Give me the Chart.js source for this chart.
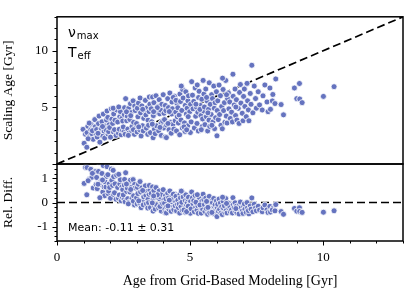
<!DOCTYPE html>
<html>
<head>
<meta charset="utf-8">
<title>Scaling age vs grid-based age</title>
<script src="https://cdn.jsdelivr.net/npm/chart.js@4.4.0/dist/chart.umd.min.js"></script>
<style>
  html, body { margin: 0; padding: 0; background: #fff; }
  #wrap { position: relative; width: 415px; height: 295px; }
  #wrap canvas { position: absolute; left: 0; top: 0; }
</style>
</head>
<body>
<div id="wrap">
  <canvas id="topChart" width="415" height="295"></canvas>
  <canvas id="bottomChart" width="415" height="295"></canvas>
</div>
<script>
// ages, one entry per star (Gyr)
const gridAge = [
  1.02,1.12,0.98,1.07,1.13,1.16,1.22,1.27,1.31,1.28,1.36,1.42,1.39,1.47,1.44,1.21,1.33,1.17,
  1.51,1.49,1.56,1.62,1.58,1.66,1.72,1.69,1.77,1.74,1.81,1.79,1.86,1.84,1.92,1.88,1.96,1.94,1.61,1.71,1.91,1.54,
  2.01,1.98,2.06,2.04,2.12,2.09,2.16,2.13,2.22,2.18,2.24,2.31,2.28,2.36,2.34,2.41,2.38,2.46,2.44,2.52,2.11,2.32,2.47,
  2.49,2.53,2.56,2.54,2.62,2.58,2.66,2.64,2.71,2.69,2.76,2.74,2.81,2.79,2.82,2.86,2.91,2.88,2.92,2.96,2.94,2.61,2.68,2.87,2.77,
  3.01,2.99,3.02,3.06,3.04,3.11,3.12,3.16,3.14,3.21,3.19,3.26,3.24,3.31,3.32,3.36,3.34,3.41,3.39,3.42,3.46,3.44,3.51,3.49,3.22,3.47,3.07,
  3.56,3.54,3.61,3.59,3.62,3.66,3.64,3.69,3.72,3.76,3.74,3.81,3.82,3.86,3.84,3.91,3.89,3.92,3.94,4.01,3.99,3.58,3.77,3.87,4.02,3.63,3.97,
  4.06,4.04,4.07,4.11,4.09,4.12,4.16,4.21,4.19,4.26,4.24,4.31,4.29,4.32,4.36,4.34,4.39,4.42,4.46,4.44,4.51,4.49,4.52,4.22,4.37,4.17,4.47,
  4.56,4.54,4.61,4.59,4.62,4.66,4.64,4.71,4.69,4.72,4.74,4.81,4.79,4.82,4.86,4.84,4.91,4.89,4.92,4.94,5.01,4.99,5.02,4.67,4.77,4.93,4.87,
  5.06,5.04,5.11,5.09,5.16,5.14,5.21,5.19,5.26,5.24,5.31,5.29,5.32,5.34,5.41,5.39,5.46,5.44,5.51,5.49,5.52,5.27,5.42,5.22,5.47,5.37,
  5.56,5.54,5.61,5.59,5.66,5.64,5.71,5.69,5.72,5.76,5.74,5.81,5.79,5.86,5.84,5.91,5.89,5.92,5.96,5.94,6.01,5.99,5.62,5.82,5.67,6.02,
  6.06,6.04,6.11,6.09,6.16,6.14,6.21,6.19,6.26,6.24,6.31,6.29,6.36,6.34,6.41,6.39,6.46,6.44,6.51,6.49,6.22,6.37,
  6.56,6.61,6.59,6.62,6.66,6.71,6.69,6.76,6.74,6.81,6.86,6.84,6.91,6.89,6.96,7.01,6.99,6.72,
  7.06,7.04,7.11,7.16,7.14,7.21,7.19,7.26,7.32,7.29,7.36,7.41,7.46,7.49,
  7.56,7.61,7.71,7.74,7.81,7.89,7.93,
  8.0,8.02,8.11,8.09,8.22,8.19,8.42,
  8.51,8.92,9.01,9.11,9.12,9.21,10.01,10.41
];
const scalingAge = [
  1.83,1.48,3.06,2.63,2.77,3.34,2.41,3.02,2.68,3.52,2.18,3.92,3.13,2.57,3.29,3.61,2.94,2.23,
  2.38,3.04,3.57,2.82,4.23,3.16,2.47,3.73,2.91,4.41,3.36,2.29,3.88,3.02,2.63,4.68,3.47,2.86,1.93,3.31,4.12,2.71,
  2.37,3.22,3.96,4.87,2.84,3.58,3.03,4.42,2.52,3.87,4.78,2.72,3.71,4.18,3.07,2.58,4.63,2.97,4.03,2.88,4.93,5.04,3.79,
  3.27,4.36,2.63,4.97,3.82,5.77,3.08,4.23,2.74,4.91,5.32,3.93,2.87,4.54,3.31,5.58,2.62,3.68,5.12,3.18,4.72,4.61,2.53,3.03,4.27,
  2.83,3.57,4.93,5.38,4.17,3.02,5.83,2.48,4.52,3.38,5.13,4.03,2.92,4.68,5.62,3.17,4.33,2.62,4.97,3.87,4.63,3.42,2.77,5.28,4.83,5.92,3.28,
  3.73,4.88,2.32,5.91,4.27,3.08,5.42,2.68,6.03,4.57,3.37,5.08,2.93,4.43,5.68,3.63,4.77,2.52,5.27,3.18,6.12,3.52,4.98,3.23,4.48,4.62,3.78,
  2.38,3.92,5.17,2.33,4.72,3.43,5.77,3.03,4.98,3.68,6.27,4.42,2.72,5.47,3.52,4.88,3.08,5.98,4.58,3.82,5.33,2.92,4.17,4.63,5.88,3.58,5.62,
  3.62,4.97,2.58,4.32,6.18,3.88,5.52,3.17,4.73,6.57,5.83,2.88,3.63,5.18,4.42,6.38,3.37,4.93,5.58,6.02,2.78,4.62,5.27,6.88,3.28,4.18,3.02,
  7.27,3.72,4.87,6.08,3.18,5.53,4.22,6.72,3.58,5.02,2.92,4.57,5.87,6.42,4.28,5.17,3.32,5.72,4.68,7.38,6.18,6.98,3.03,5.28,3.98,4.82,
  3.48,5.03,4.18,6.62,2.92,5.57,3.88,4.83,7.17,5.27,3.32,6.12,4.38,3.72,5.78,4.92,6.88,3.12,4.08,5.42,2.49,6.38,5.88,3.42,4.52,4.72,
  3.92,5.58,4.37,6.97,3.42,6.03,3.11,5.08,4.72,6.58,3.68,5.42,4.23,7.38,5.77,3.62,4.87,6.28,4.02,5.48,7.58,6.12,
  4.58,7.93,3.72,5.98,5.22,4.28,6.62,3.88,5.68,4.92,6.32,3.58,5.38,7.02,4.48,5.97,3.82,5.03,
  5.08,6.62,4.18,5.58,7.12,3.82,4.78,6.23,8.72,5.27,4.52,6.88,5.78,4.93,
  6.38,5.22,4.77,6.02,6.98,5.48,4.62,
  6.71,4.83,6.14,5.57,7.51,5.34,5.25,
  4.34,6.71,5.77,7.11,5.74,5.42,5.97,6.83
];
// relative difference shown in the lower panel: (scaling - grid) / grid
const relDiff = scalingAge.map((s, i) => (s - gridAge[i]) / gridAge[i]);

const oneToOneX = [0, 13];
const oneToOneY = [0, 13];
const zeroLineY = [0, 0];

const xRange = [0, 13];
const topYRange = [0, 13];
const bottomYRange = [-1.6, 1.6];

const xLabels = [0, 5, 10];
const topYLabels = [5, 10];
const bottomYLabels = [-1, 0, 1];

const meanText = 'Mean: -0.11 \u00b1 0.31';

const dotColor = '#6573bf';
const serif = 'Liberation Serif, Times New Roman, serif';
const sans = 'DejaVu Sans, sans-serif';

function stepList(from, to, step) {
  const out = [];
  for (let v = from; v <= to + 1e-9; v += step) out.push(Math.round(v * 100) / 100);
  return out;
}

// frame box + outward tick marks (minor and major)
const panelFrame = {
  id: 'panelFrame',
  afterDatasetsDraw(chart, args, opts) {
    const { ctx, chartArea: a, scales } = chart;
    ctx.save();
    ctx.strokeStyle = '#000';
    ctx.lineWidth = 1;
    (opts.yMinor || []).forEach(v => {
      const y = Math.round(scales.y.getPixelForValue(v)) + 0.5;
      ctx.beginPath(); ctx.moveTo(a.left - 2.5, y); ctx.lineTo(a.left, y); ctx.stroke();
    });
    (opts.yMajor || []).forEach(v => {
      const y = Math.round(scales.y.getPixelForValue(v)) + 0.5;
      ctx.beginPath(); ctx.moveTo(a.left - 4.5, y); ctx.lineTo(a.left, y); ctx.stroke();
    });
    (opts.xMinor || []).forEach(v => {
      const x = Math.round(scales.x.getPixelForValue(v)) + 0.5;
      ctx.beginPath(); ctx.moveTo(x, a.bottom); ctx.lineTo(x, a.bottom + 2.5); ctx.stroke();
    });
    (opts.xMajor || []).forEach(v => {
      const x = Math.round(scales.x.getPixelForValue(v)) + 0.5;
      ctx.beginPath(); ctx.moveTo(x, a.bottom); ctx.lineTo(x, a.bottom + 4.5); ctx.stroke();
    });
    ctx.lineWidth = 1.5;
    ctx.strokeRect(a.left, a.top, a.right - a.left, a.bottom - a.top);
    ctx.restore();
  }
};

// top-left labels of the upper panel
const topLabels = {
  id: 'topLabels',
  afterDraw(chart) {
    const { ctx, chartArea: a } = chart;
    ctx.save();
    ctx.fillStyle = '#000';
    ctx.textBaseline = 'alphabetic';
    ctx.textAlign = 'left';
    ctx.font = '14px ' + sans;
    ctx.fillText('\u03bd', a.left + 11, a.top + 20);
    const nuW = ctx.measureText('\u03bd').width;
    ctx.fillText('T', a.left + 11, a.top + 40);
    const tW = ctx.measureText('T').width;
    ctx.font = '10px ' + sans;
    ctx.fillText('max', a.left + 12 + nuW, a.top + 22);
    ctx.fillText('eff', a.left + 12 + tW, a.top + 42);
    ctx.restore();
  }
};

const meanLabel = {
  id: 'meanLabel',
  afterDraw(chart) {
    const { ctx, chartArea: a } = chart;
    ctx.save();
    ctx.fillStyle = '#000';
    ctx.font = '11px ' + sans;
    ctx.textBaseline = 'alphabetic';
    ctx.fillText(meanText, a.left + 11, a.bottom - 10);
    ctx.restore();
  }
};

function yAxis(range, labels, title) {
  return {
    type: 'linear',
    min: range[0],
    max: range[1],
    afterFit: s => { s.width = 57; },
    afterBuildTicks: s => { s.ticks = labels.map(v => ({ value: v })); },
    grid: { display: false, drawTicks: false },
    border: { display: false },
    ticks: { padding: 9, color: '#000', font: { family: serif, size: 13 }, callback: v => String(v) },
    title: { display: true, text: title, color: '#000', font: { family: serif, size: 13.5 }, padding: 0 }
  };
}

const dotStyle = {
  backgroundColor: dotColor,
  borderColor: '#ffffff',
  borderWidth: 0.8,
  pointRadius: 3,
  pointHoverRadius: 3,
  order: 1
};

const dashStyle = {
  showLine: true,
  borderColor: '#000',
  borderWidth: 1.7,
  borderDash: [8, 4],
  pointRadius: 0,
  fill: false,
  order: 2
};

new Chart(document.getElementById('topChart'), {
  type: 'scatter',
  data: {
    datasets: [
      Object.assign({ data: gridAge.map((g, i) => ({ x: g, y: scalingAge[i] })) }, dotStyle),
      Object.assign({ data: oneToOneX.map((x, i) => ({ x: x, y: oneToOneY[i] })) }, dashStyle)
    ]
  },
  options: {
    responsive: false,
    animation: false,
    devicePixelRatio: 1,
    layout: { padding: { left: 0, top: 12, right: 12, bottom: 131 } },
    plugins: {
      legend: { display: false },
      tooltip: { enabled: false },
      panelFrame: { yMinor: stepList(0, 13, 1), yMajor: [0, 5, 10] }
    },
    scales: {
      x: { type: 'linear', display: false, min: xRange[0], max: xRange[1] },
      y: yAxis(topYRange, topYLabels, 'Scaling Age [Gyr]')
    }
  },
  plugins: [panelFrame, topLabels]
});

new Chart(document.getElementById('bottomChart'), {
  type: 'scatter',
  data: {
    datasets: [
      Object.assign({ data: gridAge.map((g, i) => ({ x: g, y: relDiff[i] })) }, dotStyle),
      Object.assign({ data: oneToOneX.map((x, i) => ({ x: x, y: zeroLineY[i] })) }, dashStyle)
    ]
  },
  options: {
    responsive: false,
    animation: false,
    devicePixelRatio: 1,
    layout: { padding: { left: 0, top: 164, right: 12, bottom: 0 } },
    plugins: {
      legend: { display: false },
      tooltip: { enabled: false },
      panelFrame: {
        yMinor: stepList(-1.6, 1.6, 0.2), yMajor: bottomYLabels,
        xMinor: stepList(0, 13, 1), xMajor: xLabels
      }
    },
    scales: {
      x: {
        type: 'linear',
        min: xRange[0],
        max: xRange[1],
        afterFit: s => { s.height = 54; },
        afterBuildTicks: s => { s.ticks = xLabels.map(v => ({ value: v })); },
        grid: { display: false, drawTicks: false },
        border: { display: false },
        ticks: { padding: 9, color: '#000', font: { family: serif, size: 13 }, callback: v => String(v) },
        title: { display: true, text: 'Age from Grid-Based Modeling [Gyr]', color: '#000', font: { family: serif, size: 14 }, padding: { top: 0, bottom: 5 } }
      },
      y: yAxis(bottomYRange, bottomYLabels, 'Rel. Diff.')
    }
  },
  plugins: [panelFrame, meanLabel]
});
</script>
</body>
</html>
